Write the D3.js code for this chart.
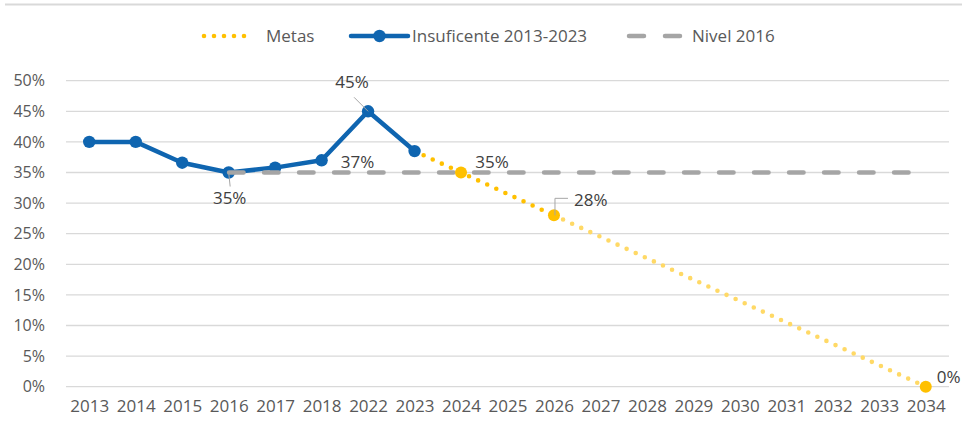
<!DOCTYPE html>
<html>
<head>
<meta charset="utf-8">
<script src="https://cdn.jsdelivr.net/npm/d3@7"></script>
<style>
  html, body { margin: 0; padding: 0; background: #fff; }
  svg { display: block; font-family: "Open Sans", sans-serif; }
</style>
</head>
<body>
<div id="chart"></div>
<script>
// categories (x axis)
var years = ["2013","2014","2015","2016","2017","2018","2022","2023","2024","2025",
             "2026","2027","2028","2029","2030","2031","2032","2033","2034"];

// Insuficente 2013-2023 (%)
var insuficente = [40, 40, 36.6, 35, 35.8, 37, 45, 38.5];
var insuficenteYears = ["2013","2014","2015","2016","2017","2018","2022","2023"];

// Metas (%)
var metasYears = ["2023","2024","2026","2034"];
var metas = [38.5, 35, 28, 0];

// Nivel 2016 (%)
var nivelYears = ["2016","2034"];
var nivel = [35, 35];

var yTicks = [0, 5, 10, 15, 20, 25, 30, 35, 40, 45, 50];

var width = 962, height = 433;
var plotLeft = 66, plotRight = 949, plotTop = 80.7, plotBottom = 386.7;

var svg = d3.select("#chart").append("svg")
  .attr("width", width)
  .attr("height", height);

// frame line at top
svg.append("line")
  .attr("x1", 5).attr("x2", 962)
  .attr("y1", 4.5).attr("y2", 4.5)
  .attr("stroke", "#d9d9d9").attr("stroke-width", 2);

var x = d3.scalePoint()
  .domain(years)
  .range([plotLeft, plotRight])
  .padding(0.5);

var y = d3.scaleLinear()
  .domain([0, 50])
  .range([plotBottom, plotTop]);

// gridlines
svg.append("g")
  .selectAll("line")
  .data(yTicks)
  .enter()
  .append("line")
    .attr("x1", plotLeft).attr("x2", plotRight)
    .attr("y1", function (d) { return y(d); })
    .attr("y2", function (d) { return y(d); })
    .attr("stroke", "#d9d9d9")
    .attr("stroke-width", 1.3);

// y axis labels
var yAxis = svg.append("g")
  .attr("transform", "translate(" + plotLeft + ",0)")
  .call(d3.axisLeft(y).tickValues(yTicks).tickSize(0).tickPadding(21)
    .tickFormat(function (d) { return d + "%"; }));
yAxis.select(".domain").remove();
yAxis.selectAll("text")
  .attr("font-family", "Open Sans")
  .attr("font-size", 16)
  .attr("fill", "#595959");

// x axis labels
var xAxis = svg.append("g")
  .attr("transform", "translate(0," + plotBottom + ")")
  .call(d3.axisBottom(x).tickSize(0).tickPadding(13));
xAxis.select(".domain").remove();
xAxis.selectAll("text")
  .attr("font-family", "Open Sans")
  .attr("font-size", 17)
  .attr("fill", "#595959");

var line = d3.line()
  .x(function (d) { return x(d[0]); })
  .y(function (d) { return y(d[1]); });

var blue = "#0F65B0", gold = "#FFC000", goldLight = "#FFD966", grey = "#A5A5A5";

// Metas lines (drawn first so the 2023 blue marker stays clean)
var metData = d3.zip(metasYears, metas);
svg.append("path")
  .datum(metData.slice(0, 3))
  .attr("d", line)
  .attr("fill", "none")
  .attr("stroke", gold)
  .attr("stroke-width", 4.6)
  .attr("stroke-linecap", "round")
  .attr("stroke-dasharray", "0 10");
svg.append("path")
  .datum(metData.slice(2))
  .attr("d", line)
  .attr("fill", "none")
  .attr("stroke", goldLight)
  .attr("stroke-width", 4.6)
  .attr("stroke-linecap", "round")
  .attr("stroke-dasharray", "0 10")
  .attr("stroke-dashoffset", -10);

// Insuficente series
var insData = d3.zip(insuficenteYears, insuficente);
svg.append("path")
  .datum(insData)
  .attr("d", line)
  .attr("fill", "none")
  .attr("stroke", blue)
  .attr("stroke-width", 4.5)
  .attr("stroke-linejoin", "round");
svg.append("g")
  .selectAll("circle")
  .data(insData)
  .enter()
  .append("circle")
    .attr("cx", function (d) { return x(d[0]); })
    .attr("cy", function (d) { return y(d[1]); })
    .attr("r", 6.2)
    .attr("fill", blue);

// Nivel 2016
var nivData = d3.zip(nivelYears, nivel);
svg.append("path")
  .datum(nivData)
  .attr("d", line)
  .attr("fill", "none")
  .attr("stroke", grey)
  .attr("stroke-width", 4.5)
  .attr("stroke-linecap", "round")
  .attr("stroke-dasharray", "14.5 20.5")
  .attr("transform", "translate(0.4,0)");

// Metas markers
svg.append("g")
  .selectAll("circle")
  .data(metData.slice(1))
  .enter()
  .append("circle")
    .attr("cx", function (d) { return x(d[0]); })
    .attr("cy", function (d) { return y(d[1]); })
    .attr("r", 6)
    .attr("fill", gold);

// data labels
var labelColor = "#404040";
var leader = svg.append("g")
  .attr("fill", "none")
  .attr("stroke", "#a6a6a6")
  .attr("stroke-width", 1);

function label(txt, px, py, anchor) {
  svg.append("text")
    .attr("x", px).attr("y", py)
    .attr("text-anchor", anchor || "middle")
    .attr("font-size", 17)
    .attr("fill", labelColor)
    .text(txt);
}

// 45% at 2022
var p = [x("2022"), y(45)];
leader.append("path").attr("d", "M" + (p[0] - 14) + "," + (p[1] - 14) + "L" + p[0] + "," + p[1]);
label("45%", p[0] - 16, p[1] - 23);

// 37% at 2018
p = [x("2018"), y(37)];
label("37%", p[0] + 36, p[1] + 8);

// 35% at 2016
p = [x("2016"), y(35)];
leader.append("path").attr("d", "M" + p[0] + "," + p[1] + "L" + (p[0] + 1.5) + "," + (p[1] + 14));
label("35%", p[0] + 1, p[1] + 31);

// 35% at 2024
p = [x("2024"), y(35)];
label("35%", p[0] + 31, p[1] - 5);

// 28% at 2026
p = [x("2026"), y(28)];
leader.append("path").attr("d", "M" + (p[0] + 1) + "," + p[1] + "V" + (p[1] - 17) + "h13");
label("28%", p[0] + 20, p[1] - 9, "start");

// 0% at 2034
p = [x("2034"), y(0)];
label("0%", p[0] + 11, p[1] - 4, "start");

// legend
var lg = svg.append("g").attr("transform", "translate(0,36)");
lg.append("line")
  .attr("x1", 204).attr("x2", 254).attr("y1", 0).attr("y2", 0)
  .attr("stroke", gold).attr("stroke-width", 4.6)
  .attr("stroke-linecap", "round").attr("stroke-dasharray", "0 10");
lg.append("text").attr("x", 266).attr("y", 6).attr("font-size", 17)
  .attr("fill", "#595959").text("Metas");

lg.append("line")
  .attr("x1", 351).attr("x2", 408).attr("y1", 0).attr("y2", 0)
  .attr("stroke", blue).attr("stroke-width", 4.5).attr("stroke-linecap", "round");
lg.append("circle").attr("cx", 379.5).attr("cy", 0).attr("r", 6.2).attr("fill", blue);
lg.append("text").attr("x", 412).attr("y", 6).attr("font-size", 17)
  .attr("fill", "#595959").text("Insuficente 2013-2023");

lg.append("line")
  .attr("x1", 629).attr("x2", 681).attr("y1", 0).attr("y2", 0)
  .attr("stroke", grey).attr("stroke-width", 4.5)
  .attr("stroke-linecap", "round").attr("stroke-dasharray", "15 21");
lg.append("text").attr("x", 692).attr("y", 6).attr("font-size", 17)
  .attr("fill", "#595959").text("Nivel 2016");
</script>
</body>
</html>
